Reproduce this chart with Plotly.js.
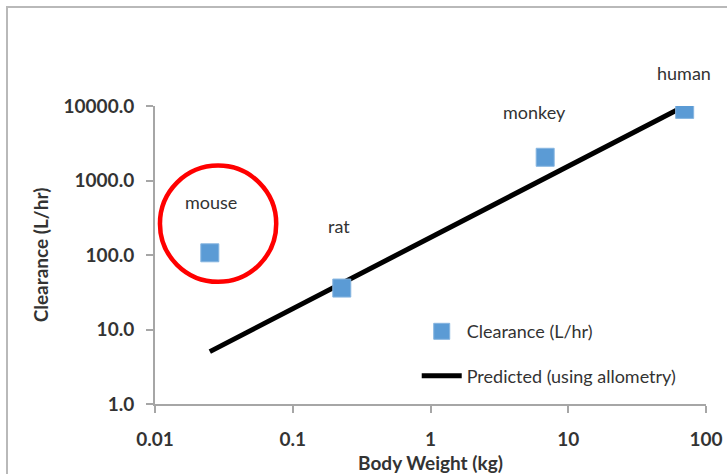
<!DOCTYPE html>
<html>
<head>
<meta charset="utf-8">
<script src="https://cdn.plot.ly/plotly-3.0.1.min.js"></script>
<style>
  html, body { margin: 0; padding: 0; background: #fff; }
  #frame { position: absolute; left: 6px; top: 6px; width: 800px; height: 600px;
           border-top: 2px solid #b9b9b9; border-left: 2px solid #b9b9b9; }
  #chart { position: absolute; left: 0; top: 0; width: 727px; height: 474px; }
</style>
</head>
<body>
<div id="frame"></div>
<div id="chart"></div>
<script>
// ---- data ----
const species      = ["mouse", "rat", "monkey", "human"];
const bodyWeightKg = [0.025, 0.227, 6.8, 70];
const clearanceLhr = [107, 36, 2050, 9000];
const predictedLhr = [5.05, 41.7, 1080, 10000];

const xTickVals = [0.01, 0.1, 1, 10, 100];
const xTickText = ["0.01", "0.1", "1", "10", "100"];
const yTickVals = [1, 10, 100, 1000, 10000];
const yTickText = ["1.0", "10.0", "100.0", "1000.0", "10000.0"];

// label offsets in pixels (style only)
const labelShiftX = [1, -3, -11, -1];
const labelShiftY = [51, 62, 45, 36];

const FONT = "Lato, 'Open Sans', sans-serif";
const TXT = "#333333";

const traces = [
  {
    x: bodyWeightKg, y: predictedLhr, type: "scatter", mode: "lines",
    name: "Predicted (using allometry)", legendgroup: "b", legendrank: 2,
    line: { color: "#000000", width: 5 }
  },
  {
    x: bodyWeightKg, y: clearanceLhr, type: "scatter", mode: "markers",
    name: "Clearance (L/hr)", legendgroup: "a", legendrank: 1,
    marker: { symbol: "square", size: 18, color: "#5b9bd5",
              line: { color: "#86b5e0", width: 1 } }
  }
];

const annotations = species.map((s, i) => ({
  x: Math.log10(bodyWeightKg[i]), y: Math.log10(clearanceLhr[i]),
  xref: "x", yref: "y", text: s, showarrow: false,
  xshift: labelShiftX[i], yshift: labelShiftY[i],
  font: { family: FONT, size: 18, color: TXT }
}));

const layout = {
  width: 727, height: 474,
  margin: { l: 155, r: 21, t: 106, b: 70 },
  paper_bgcolor: "rgba(0,0,0,0)", plot_bgcolor: "rgba(0,0,0,0)",
  showlegend: true,
  legend: {
    x: 0.475, y: 0.305, xanchor: "left", yanchor: "top",
    traceorder: "grouped", tracegroupgap: 18,
    font: { family: FONT, size: 18, color: TXT },
    bgcolor: "rgba(0,0,0,0)", itemwidth: 40
  },
  xaxis: {
    type: "log", range: [-2, 2],
    tickmode: "array", tickvals: xTickVals, ticktext: xTickText,
    showgrid: false, zeroline: false,
    showline: true, linecolor: "#a6a6a6", linewidth: 2,
    ticks: "outside", ticklen: 7, tickcolor: "#a6a6a6", tickwidth: 1.5,
    ticklabelstandoff: 10,
    tickfont: { family: FONT, size: 19, color: TXT, weight: "bold" },
    title: { text: "<b>Body Weight (kg)</b>", font: { family: FONT, size: 19, color: TXT } }
  },
  yaxis: {
    type: "log", range: [0, 4], automargin: true,
    tickmode: "array", tickvals: yTickVals, ticktext: yTickText,
    showgrid: false, zeroline: false,
    showline: true, linecolor: "#a6a6a6", linewidth: 2,
    ticks: "outside", ticklen: 7, tickcolor: "#a6a6a6", tickwidth: 1.5,
    ticklabelstandoff: 8,
    tickfont: { family: FONT, size: 19, color: TXT, weight: "bold" },
    title: { text: "<b>Clearance (L/hr)</b>", standoff: 10,
             font: { family: FONT, size: 19, color: TXT } }
  },
  annotations: annotations,
  shapes: [{
    type: "circle", xref: "paper", yref: "paper",
    x0: 0.009, x1: 0.22, y0: 0.41, y1: 0.80,
    line: { color: "#ff0000", width: 4.5 }, fillcolor: "rgba(0,0,0,0)"
  }]
};

Plotly.newPlot("chart", traces, layout, { displayModeBar: false, responsive: false });
</script>
</body>
</html>
